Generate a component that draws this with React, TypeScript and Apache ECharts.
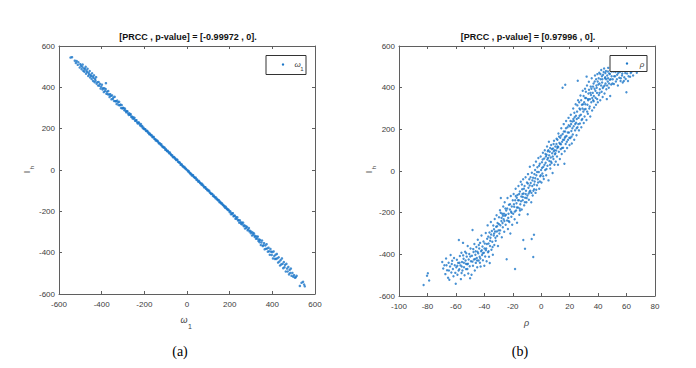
import React, { useEffect, useRef } from "react";
import * as echarts from "echarts";

// ---------- data ----------
const titleA = "[PRCC , p-value] = [-0.99972 , 0].";
const titleB = "[PRCC , p-value] = [0.97996 , 0].";
const captionA = "(a)";
const captionB = "(b)";

const xRangeA = [-600, 600, 200];
const yRangeA = [-600, 600, 200];
const xRangeB = [-100, 80, 20];
const yRangeB = [-600, 600, 200];

// (omega_1, I_h)
const omegaPoints: [number, number][] = [
  [-546,544],[-539,546],[-526,529],[-521,518],[-517,527],[-512,509],[-509,521],[-503,496],[-500,512],[-497,505],
  [-494,488],[-491,499],[-489,510],[-486,480],[-483,492],[-481,476],[-478,488],[-475,499],[-473,466],[-471,481],
  [-468,474],[-466,490],[-463,455],[-461,470],[-459,462],[-456,479],[-454,448],[-452,461],[-449,455],[-447,440],
  [-445,468],[-442,452],[-440,431],[-438,446],[-436,458],[-433,425],[-431,440],[-429,433],[-426,449],[-424,418],
  [-420,425],[-417,409],[-414,426],[-411,408],[-408,417],[-405,394],[-402,403],[-399,413],[-396,390],[-393,396],
  [-390,377],[-387,395],[-384,382],[-381,392],[-380,420],[-378,369],[-375,379],[-372,367],[-369,382],[-366,365],
  [-363,353],[-360,367],[-357,359],[-354,342],[-351,361],[-348,344],[-345,351],[-342,334],[-339,354],[-336,333],
  [-333,333],[-330,319],[-327,336],[-324,327],[-321,314],[-318,330],[-315,313],[-312,317],[-309,300],[-306,314],
  [-303,298],[-300,301],[-297,300],[-294,289],[-291,297],[-288,287],[-285,279],[-282,284],[-279,284],[-276,273],
  [-273,266],[-270,274],[-267,267],[-264,270],[-261,257],[-258,259],[-255,249],[-252,255],[-249,247],[-246,253],
  [-243,238],[-240,240],[-237,241],[-234,231],[-231,225],[-228,230],[-225,230],[-222,221],[-219,215],[-216,222],
  [-213,211],[-210,213],[-207,202],[-204,205],[-201,198],[-198,197],[-195,197],[-192,189],[-189,189],[-186,189],
  [-183,181],[-180,181],[-177,173],[-174,176],[-171,171],[-168,167],[-165,168],[-162,159],[-159,160],[-156,160],
  [-153,151],[-150,150],[-147,143],[-144,146],[-141,140],[-138,141],[-135,136],[-132,129],[-129,129],[-126,128],
  [-123,121],[-120,124],[-117,116],[-114,111],[-111,112],[-108,108],[-105,108],[-102,98],[-99,101],[-96,95],
  [-93,91],[-90,93],[-87,87],[-84,81],[-81,85],[-78,79],[-75,74],[-72,70],[-69,71],[-66,62],
  [-63,63],[-60,63],[-57,56],[-54,55],[-51,48],[-48,50],[-45,49],[-42,40],[-39,39],[-36,35],
  [-33,36],[-30,26],[-27,28],[-24,26],[-21,18],[-18,18],[-15,13],[-12,15],[-9,8],[-6,7],
  [-3,3],[2,-1],[5,-7],[8,-5],[11,-12],[14,-14],[17,-20],[20,-18],[23,-27],[26,-25],
  [29,-26],[32,-34],[35,-35],[38,-39],[41,-37],[44,-47],[47,-45],[50,-51],[53,-57],[56,-53],
  [59,-59],[62,-64],[65,-64],[68,-71],[71,-67],[74,-75],[77,-75],[80,-84],[83,-83],[86,-83],
  [89,-91],[92,-91],[95,-98],[98,-96],[101,-102],[104,-100],[107,-109],[110,-110],[113,-116],[116,-115],
  [119,-116],[122,-126],[125,-123],[128,-129],[131,-131],[134,-137],[137,-133],[140,-142],[143,-142],[146,-147],
  [149,-146],[152,-156],[155,-153],[158,-158],[161,-163],[164,-161],[167,-168],[170,-169],[173,-176],[176,-174],
  [179,-183],[182,-178],[185,-186],[188,-188],[191,-193],[194,-191],[197,-196],[200,-204],[203,-200],[206,-214],
  [209,-208],[212,-214],[215,-209],[218,-224],[221,-222],[224,-220],[227,-236],[230,-228],[233,-236],[236,-229],
  [239,-244],[242,-242],[245,-255],[248,-243],[251,-253],[254,-261],[257,-254],[260,-264],[263,-255],[266,-272],
  [269,-268],[272,-283],[275,-271],[278,-281],[281,-275],[284,-292],[287,-288],[290,-281],[293,-298],[296,-294],
  [299,-306],[302,-299],[305,-317],[308,-303],[311,-313],[314,-307],[317,-323],[320,-319],[323,-332],[326,-322],
  [329,-332],[332,-322],[335,-343],[338,-336],[340,-349],[343,-339],[346,-363],[349,-351],[352,-341],[355,-368],
  [358,-364],[361,-354],[364,-384],[367,-365],[370,-381],[373,-359],[376,-380],[379,-395],[382,-376],[385,-393],
  [388,-410],[391,-382],[394,-395],[397,-411],[400,-397],[403,-428],[406,-394],[409,-416],[412,-430],[415,-410],
  [418,-430],[421,-406],[424,-427],[427,-448],[430,-422],[433,-443],[436,-462],[439,-436],[442,-457],[445,-428],
  [448,-454],[451,-475],[454,-445],[457,-470],[460,-459],[463,-491],[466,-454],[469,-477],[472,-491],[475,-469],
  [478,-505],[481,-483],[484,-498],[487,-477],[490,-512],[494,-498],[498,-516],[502,-509],[506,-521],[510,-519],
  [514,-512],[529,-561],[537,-546],[544,-541],[549,-554],[552,-563]
];

// (rho, I_h)
const rhoPoints: [number, number][] = [
  [-82.7,-547],[-80.3,-503],[-79.7,-491],[-78.8,-526],
  [-69.6,-437],[-68.9,-468],[-68.1,-452],[-67.4,-495],[-66.9,-420],[-66.2,-476],[-65.5,-512],[-65.1,-440],
  [-64.6,-522],[-64.1,-458],[-63.7,-403],[-63.2,-487],[-62.6,-431],[-62.1,-470],[-61.7,-505],[-61.3,-418],
  [-60.8,-452],[-60.4,-489],[-60.1,-541],[-62.9,-446],[-66.6,-452],[-64.9,-478],
  [-59.7,-462],[-59.3,-426],[-58.9,-498],[-58.4,-441],[-57.9,-331],[-57.6,-472],[-57.2,-408],[-56.8,-453],
  [-56.5,-519],[-56.1,-392],[-55.7,-437],[-55.4,-478],[-55.0,-345],[-54.6,-421],[-54.3,-462],[-53.9,-500],
  [-53.5,-388],[-53.2,-430],[-52.8,-471],[-52.4,-411],[-52.1,-448],[-51.7,-360],[-51.3,-492],[-51.0,-425],
  [-50.6,-398],[-50.3,-457],[-50.0,-515],[-58.1,-478],[-55.9,-458],[-53.0,-445],[-54.9,-405],[-51.9,-470],
  [-49.7,-372],[-49.4,-433],[-49.0,-498],[-48.7,-407],[-48.3,-283],[-48.0,-455],[-47.6,-389],[-47.3,-425],
  [-47.0,-350],[-46.7,-478],[-46.3,-402],[-46.0,-441],[-45.6,-365],[-45.3,-418],[-45.0,-462],[-44.6,-330],
  [-44.3,-395],[-44.0,-430],[-43.6,-372],[-43.3,-412],[-43.0,-345],[-42.6,-458],[-42.3,-385],[-42.0,-310],
  [-41.6,-403],[-41.3,-362],[-41.0,-428],[-40.6,-338],[-40.3,-392],[-40.0,-455],[-46.5,-422],[-44.8,-388],
  [-43.1,-440],[-41.8,-380],
  [-39.7,-348],[-39.4,-410],[-39.0,-298],[-38.7,-372],[-38.4,-433],[-38.0,-325],[-37.7,-261],[-37.4,-390],
  [-37.0,-348],[-36.7,-412],[-36.4,-295],[-36.0,-360],[-35.7,-320],[-35.4,-245],[-35.0,-378],[-34.7,-288],
  [-34.4,-340],[-34.0,-402],[-33.7,-262],[-33.4,-310],[-33.0,-355],[-32.7,-230],[-32.4,-290],[-32.0,-335],
  [-31.7,-268],[-31.4,-212],[-31.0,-312],[-30.7,-250],[-30.4,-360],[-30.0,-285],[-38.9,-380],[-37.2,-315],
  [-35.2,-305],[-33.2,-280],[-31.2,-290],[-36.2,-442],
  [-29.7,-222],[-29.4,-300],[-29.0,-188],[-28.7,-260],[-28.4,-130],[-28.0,-240],[-27.7,-318],[-27.4,-205],
  [-27.0,-270],[-26.7,-170],[-26.4,-232],[-26.0,-292],[-25.7,-150],[-25.4,-215],[-25.0,-258],[-24.6,-190],
  [-24.3,-424],[-24.0,-238],[-23.7,-130],[-23.4,-278],[-23.0,-205],[-22.7,-162],[-22.4,-245],[-22.0,-185],
  [-21.7,-300],[-21.4,-120],[-21.0,-220],[-20.7,-170],[-20.4,-258],[-20.0,-140],[-28.9,-285],[-27.2,-250],
  [-25.2,-180],[-23.2,-225],[-21.2,-195],[-26.2,-205],
  [-19.7,-205],[-19.4,-110],[-19.0,-172],[-18.7,-232],[-18.4,-470],[-18.3,-140],[-18.0,-85],[-17.7,-190],
  [-17.4,-155],[-17.0,-248],[-16.7,-115],[-16.4,-175],[-16.0,-72],[-15.7,-140],[-15.4,-210],[-15.0,-98],
  [-14.7,-160],[-14.4,-52],[-14.0,-122],[-13.7,-185],[-13.4,-88],[-13.0,-140],[-12.6,-331],[-12.7,-40],
  [-12.4,-108],[-12.0,-165],[-11.7,-72],[-11.4,-373],[-11.3,-128],[-11.0,-30],[-10.7,-95],[-10.4,-150],
  [-10.0,-55],[-17.2,-128],[-15.2,-180],[-13.2,-110],
  [-9.7,-118],[-9.5,-208],[-9.3,-15],[-9.0,-80],[-8.7,-138],[-8.4,-40],[-8.0,20],[-7.7,-95],
  [-7.4,-58],[-7.0,-150],[-6.7,-326],[-6.6,-8],[-6.3,-72],[-6.0,-118],[-5.6,-413],[-5.7,-32],
  [-5.1,-306],[-5.3,28],[-5.0,-88],[-4.6,-50],[-4.3,5],[-4.0,-105],[-3.7,45],[-3.4,-20],
  [-3.0,-68],[-2.7,18],[-2.4,-40],[-2.0,62],[-1.7,-5],[-1.4,-85],[-1.0,35],[-0.7,-25],
  [-0.4,70],[-0.1,5],[-8.2,-100],[-4.8,-15],
  [0.2,-55],[0.5,42],[0.8,-12],[1.2,88],[1.5,20],[1.8,-38],[2.1,60],[2.5,100],
  [2.8,5],[3.1,40],[3.5,-20],[3.8,78],[4.1,118],[4.4,25],[4.8,62],[5.1,-45],
  [5.4,140],[5.7,48],[6.0,92],[6.4,12],[6.7,65],[7.0,125],[7.3,38],[7.7,85],
  [8.0,-10],[8.3,108],[8.6,58],[9.0,145],[9.3,30],[9.6,80],[9.9,118],[1.0,55],
  [3.3,70],[6.2,30],[8.8,95],[4.6,95],
  [10.2,45],[10.5,98],[10.8,155],[11.1,70],[11.5,118],[11.8,30],[12.1,180],[12.4,92],
  [12.8,135],[13.1,58],[13.4,160],[13.7,105],[14.1,205],[14.4,82],[14.7,140],[15.0,400],
  [15.1,178],[15.4,112],[15.8,225],[16.1,150],[16.3,35],[16.5,95],[16.9,414],[16.8,190],
  [17.2,130],[17.5,240],[17.8,168],[18.2,110],[18.5,210],[18.9,150],[19.2,255],[19.5,185],
  [19.9,125],[11.3,110],[13.9,128],[17.0,165],
  [20.2,215],[20.5,158],[20.8,270],[21.2,192],[21.5,132],[21.8,238],[22.2,175],[22.5,300],
  [22.8,215],[23.2,150],[23.5,258],[23.8,195],[24.2,320],[24.5,232],[24.8,172],[25.2,285],
  [25.7,433],[25.5,210],[25.9,340],[26.2,255],[26.5,195],[26.9,300],[27.2,228],[27.6,362],
  [27.9,270],[28.2,210],[28.6,318],[28.9,250],[29.2,385],[29.6,285],[29.9,230],[21.0,225],
  [23.0,240],[25.0,250],[27.0,265],[29.0,300],
  [30.2,330],[30.5,262],[30.8,395],[31.2,298],[31.5,350],[31.9,453],[31.8,245],[32.2,410],
  [32.5,318],[32.8,275],[33.2,372],[33.5,428],[33.8,300],[34.2,345],[34.5,262],[34.8,405],
  [35.2,330],[35.5,445],[35.8,290],[36.2,375],[36.5,340],[36.8,420],[37.2,305],[37.5,395],
  [37.8,458],[38.2,352],[38.5,318],[38.8,410],[39.2,375],[39.5,465],[39.8,330],[31.0,320],
  [33.0,340],[35.0,365],[37.0,360],[39.0,400],
  [40.2,415],[40.5,365],[40.8,472],[41.2,392],[41.5,340],[41.8,440],[42.2,485],[42.5,380],
  [42.8,425],[43.2,355],[43.5,462],[43.8,405],[44.2,492],[44.5,372],[44.8,445],[45.2,420],
  [45.5,480],[45.8,392],[46.1,345],[46.4,458],[46.8,430],[47.1,495],[47.5,400],[47.8,468],
  [48.2,438],[48.5,360],[48.8,482],[49.2,415],[49.5,455],[49.8,490],[41.0,420],[43.0,440],
  [45.0,450],[47.0,445],
  [50.3,440],[50.7,478],[51.1,418],[51.6,492],[52.0,455],[52.5,430],[53.0,485],[53.4,462],
  [53.9,410],[54.4,495],[54.9,448],[55.3,475],[55.8,432],[56.3,490],[56.8,458],[57.3,425],
  [57.8,482],[58.4,450],[58.9,496],[59.4,442],[59.9,378],[60.4,468],[61.0,432],[61.7,488],
  [62.5,452],[63.4,475],[64.6,458],[65.8,482],[67.2,472],
  // filling points between the denser parts of the cloud
  [-59.0,-455],[-57.4,-440],[-56.0,-490],[-54.4,-440],[-52.7,-395],[-51.5,-445],[-49.9,-410],[-48.4,-435],
  [-47.8,-375],[-46.1,-385],[-45.1,-430],[-43.9,-355],[-42.8,-420],[-41.1,-395],[-39.9,-372],[-38.2,-350],
  [-37.0,-385],[-35.9,-335],[-34.2,-365],[-33.1,-300],[-32.2,-320],[-31.0,-265],[-29.8,-255],[-28.5,-200],
  [-27.9,-225],[-26.9,-215],[-25.9,-240],[-24.8,-210],[-23.9,-180],[-22.9,-240],[-21.9,-160],[-20.9,-200],
  [-19.2,-160],[-18.6,-195],[-17.9,-120],[-17.1,-175],[-16.3,-140],[-15.5,-110],[-14.9,-190],[-14.2,-145],
  [-13.6,-65],[-12.9,-125],[-12.2,-85],[-11.5,-150],[-10.9,-110],[-10.2,-130],[-9.4,-60],[-8.8,-108],
  [-8.1,-70],[-7.5,-30],[-6.9,-105],[-6.2,-45],[-5.5,-95],[-4.9,-65],[-4.2,-35],[-3.5,-90],
  [-2.9,-5],[-2.2,-55],[-1.5,25],[-0.9,-50],[-0.3,-20],
  [0.6,15],[1.4,-25],[2.3,30],[3.0,82],[3.7,10],[4.3,55],[5.0,100],[5.6,75],
  [6.3,110],[6.9,45],[7.5,105],[8.1,70],[8.7,130],[9.4,100],[10.0,85],[10.7,130],
  [11.4,150],[12.0,115],[12.6,165],[13.3,130],[14.0,170],[14.6,110],[15.3,150],[15.9,190],
  [16.6,160],[17.4,205],[18.0,140],[18.7,185],[19.3,220],[19.8,160],
  [20.6,240],[21.3,165],[21.9,205],[22.6,250],[23.3,280],[23.9,225],[24.4,265],[24.9,205],
  [25.4,315],[26.1,225],[26.7,330],[27.4,295],[28.1,340],[28.4,245],[29.4,320],[29.8,360],
  [30.3,295],[30.9,350],[31.4,380],[32.3,285],[32.9,345],[33.6,390],[34.1,310],[34.6,375],
  [35.3,395],[35.9,350],[36.4,405],[36.9,335],[37.6,430],[38.1,385],[38.6,440],[39.3,345],
  [39.7,430],[40.4,445],[41.0,375],[41.6,465],[42.1,410],[42.7,455],[43.3,398],[43.9,475],
  [44.6,410],[45.1,470],[45.7,440],[46.3,410],[46.9,478],[47.7,420],[48.3,465],[48.9,440],
  [49.4,478],[50.1,420],[51.3,455],[52.2,475],[53.2,440],[54.1,470],[55.1,495],[56.0,445],
  [57.0,468],[58.1,432],[59.1,470],[60.1,490],[61.4,455],[62.9,470]
];

// ---------- styles ----------
const W = 696;
const H = 368;
const DOT = "#1a76c8";
const AXIS = "#5f5f5f";
const LABEL = "#3c3c3c";
const SANS = "'Liberation Sans', Arial, Helvetica, sans-serif";
const SERIF = "'Liberation Serif', 'Times New Roman', serif";

const gridA = { left: 59, top: 46, width: 256, height: 248 };
const gridB = { left: 399, top: 46, width: 256, height: 250 };

function xAxis(gridIndex: number, r: number[], position: "bottom" | "top", labels: boolean) {
  return {
    type: "value",
    gridIndex,
    position,
    min: r[0],
    max: r[1],
    interval: r[2],
    axisLine: { show: true, onZero: false, lineStyle: { color: AXIS, width: 1 } },
    axisTick: { show: true, inside: true, length: 3, lineStyle: { color: AXIS } },
    axisLabel: { show: labels, color: LABEL, fontSize: 8, fontFamily: SANS, margin: 6 },
    splitLine: { show: false },
  };
}

function yAxis(gridIndex: number, r: number[], position: "left" | "right", labels: boolean) {
  return {
    type: "value",
    gridIndex,
    position,
    min: r[0],
    max: r[1],
    interval: r[2],
    axisLine: { show: true, onZero: false, lineStyle: { color: AXIS, width: 1 } },
    axisTick: { show: true, inside: true, length: 3, lineStyle: { color: AXIS } },
    axisLabel: { show: labels, color: LABEL, fontSize: 8, fontFamily: SANS, margin: 4 },
    splitLine: { show: false },
  };
}

function txt(x: number, y: number, text: string, o: any = {}) {
  return {
    type: "text",
    x,
    y,
    rotation: o.rotation || 0,
    z: 100,
    style: {
      text,
      fill: o.fill || LABEL,
      font: o.font || `8px ${SANS}`,
      textAlign: o.align || "center",
      textVerticalAlign: "middle",
    },
  };
}

export default function App() {
  const ref = useRef<HTMLDivElement>(null);

  useEffect(() => {
    if (!ref.current) return;
    const chart = echarts.init(ref.current, null, { renderer: "svg", width: W, height: H });
    const option: any = {
      animation: false,
      backgroundColor: "#ffffff",
      grid: [gridA, gridB],
      xAxis: [
        xAxis(0, xRangeA, "bottom", true),
        xAxis(0, xRangeA, "top", false),
        xAxis(1, xRangeB, "bottom", true),
        xAxis(1, xRangeB, "top", false),
      ],
      yAxis: [
        yAxis(0, yRangeA, "left", true),
        yAxis(0, yRangeA, "right", false),
        yAxis(1, yRangeB, "left", true),
        yAxis(1, yRangeB, "right", false),
      ],
      series: [
        {
          type: "scatter",
          name: "ω1",
          xAxisIndex: 0,
          yAxisIndex: 0,
          data: omegaPoints,
          symbol: "circle",
          symbolSize: 2.5,
          itemStyle: { color: DOT },
          silent: true,
        },
        {
          type: "scatter",
          name: "ρ",
          xAxisIndex: 2,
          yAxisIndex: 2,
          data: rhoPoints,
          symbol: "circle",
          symbolSize: 2.4,
          itemStyle: { color: DOT },
          silent: true,
        },
      ],
      graphic: [
        // titles
        txt(188, 37, titleA, { fill: "#111", font: `bold 9px ${SANS}` }),
        txt(528, 37, titleB, { fill: "#111", font: `bold 9px ${SANS}` }),
        // legend A
        { type: "rect", z: 90, shape: { x: 266, y: 55.5, width: 40, height: 19 }, style: { fill: "#fff", stroke: "#333", lineWidth: 1 } },
        { type: "circle", z: 95, shape: { cx: 283, cy: 64.5, r: 1.2 }, style: { fill: DOT } },
        txt(297.5, 64, "ω", { font: `italic 8px ${SANS}` }),
        txt(302, 69, "1", { font: `6px ${SANS}` }),
        // legend B
        { type: "rect", z: 90, shape: { x: 610, y: 55.5, width: 37, height: 16 }, style: { fill: "#fff", stroke: "#333", lineWidth: 1 } },
        { type: "circle", z: 95, shape: { cx: 627, cy: 63.5, r: 1.2 }, style: { fill: DOT } },
        txt(642, 64.5, "ρ", { font: `italic 8px ${SANS}` }),
        // y labels (rotated I_h)
        txt(27, 172, "I", { font: `9px ${SANS}`, rotation: Math.PI / 2 }),
        txt(31.5, 167.5, "h", { font: `6px ${SANS}`, rotation: Math.PI / 2 }),
        txt(369, 172, "I", { font: `9px ${SANS}`, rotation: Math.PI / 2 }),
        txt(373.5, 167.5, "h", { font: `6px ${SANS}`, rotation: Math.PI / 2 }),
        // x labels
        txt(184, 320, "ω", { font: `italic 9px ${SANS}` }),
        txt(190, 326, "1", { font: `7px ${SANS}` }),
        txt(526.5, 323, "ρ", { font: `italic 9px ${SANS}` }),
        // captions
        txt(180, 351, captionA, { fill: "#000", font: `14px ${SERIF}` }),
        txt(520, 351, captionB, { fill: "#000", font: `14px ${SERIF}` }),
      ],
    };
    chart.setOption(option);
    return () => chart.dispose();
  }, []);

  return (
    <div
      ref={ref}
      style={{ position: "fixed", left: 0, top: 0, width: W, height: H, background: "#fff" }}
    />
  );
}
